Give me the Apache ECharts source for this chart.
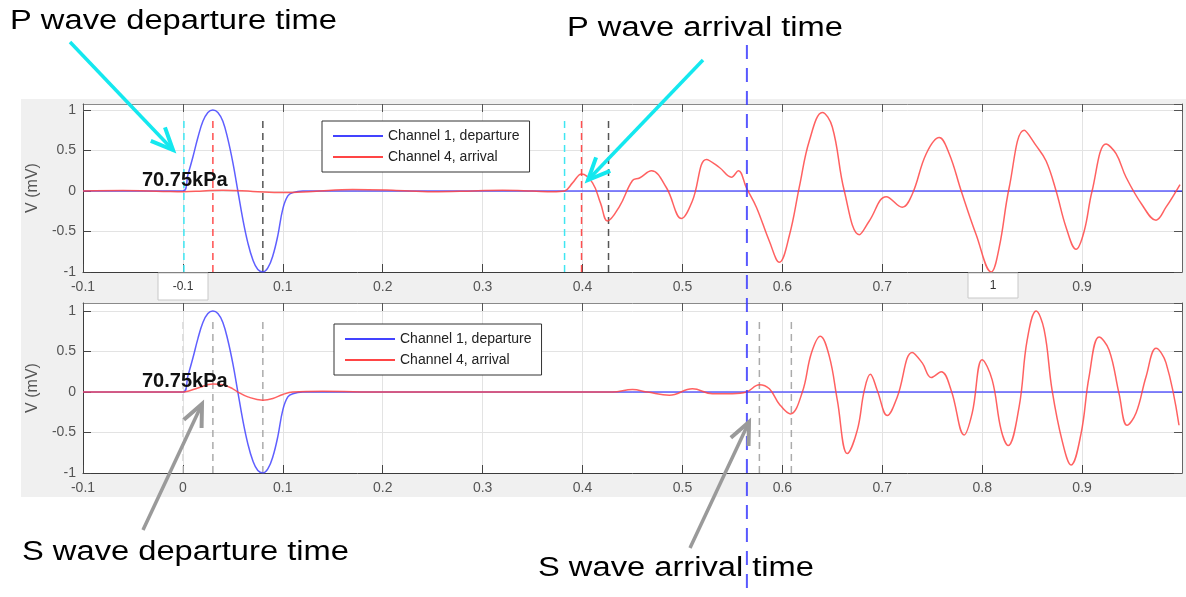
<!DOCTYPE html>
<html><head><meta charset="utf-8">
<script src="https://cdn.jsdelivr.net/npm/echarts/dist/echarts.min.js"></script>
<style>html,body{margin:0;padding:0;background:#fff}#c{width:1186px;height:597px}</style>
</head><body><div id="c"></div>
<script>
// ---------------- data ----------------
const xRange = [-0.1, 1.0];
const yTicks = [-1, -0.5, 0, 0.5, 1];
const seriesNames = ['Channel 1, departure', 'Channel 4, arrival'];
const pressureLabel = '70.75kPa';

// Channel 1 (departure), same in both panels
const ch1T = [-0.1, 0, 0.005, 0.01, 0.015, 0.02, 0.025, 0.03, 0.035, 0.04, 0.045, 0.05, 0.055, 0.06, 0.065, 0.07, 0.075, 0.08, 0.085, 0.09, 0.095, 0.1, 0.105, 0.11, 0.12, 0.2, 1.0];
const ch1V = [0, 0, 0.2, 0.42, 0.66, 0.86, 0.97, 1.0, 0.97, 0.86, 0.64, 0.35, 0.0, -0.35, -0.64, -0.85, -0.97, -1.0, -0.95, -0.8, -0.55, -0.22, -0.06, -0.02, 0, 0, 0];

// Channel 4 (arrival), P-wave panel
const ch4pT = [-0.1, -0.06, -0.02, 0.0, 0.02, 0.04, 0.07, 0.1, 0.13, 0.17, 0.21, 0.25, 0.29, 0.32, 0.35, 0.37, 0.382,
  0.39, 0.399, 0.41, 0.418, 0.425, 0.437, 0.45, 0.457, 0.469, 0.484, 0.499, 0.51, 0.524, 0.537, 0.549, 0.556, 0.564, 0.574,
  0.587, 0.597, 0.607, 0.617, 0.627, 0.64, 0.65, 0.662, 0.677, 0.687, 0.704, 0.72, 0.73, 0.744, 0.757, 0.767, 0.779, 0.794,
  0.809, 0.817, 0.827, 0.842, 0.854, 0.864, 0.874, 0.884, 0.894, 0.902, 0.91, 0.924, 0.934, 0.944, 0.96, 0.974, 0.984, 0.998];
const ch4pV = [0, 0.005, -0.005, -0.01, 0.0, 0.01, -0.005, -0.02, -0.005, 0.02, 0.01, -0.01, 0.0, 0.01, 0.0, -0.01, 0,
  0.1, 0.21, 0.1, -0.15, -0.37, -0.19, 0.13, 0.16, 0.25, 0.04, -0.34, -0.12, 0.39, 0.29, 0.17, 0.25, 0.04, -0.2,
  -0.62, -0.88, -0.55, 0.05, 0.62, 0.97, 0.79, 0.0, -0.54, -0.37, -0.07, -0.2, -0.04, 0.46, 0.66, 0.46, 0.0, -0.54,
  -1.0, -0.7, 0.04, 0.75, 0.56, 0.37, 0.0, -0.45, -0.72, -0.5, 0.0, 0.58, 0.46, 0.17, -0.17, -0.36, -0.2, 0.08];

// Channel 4 (arrival), S-wave panel
const ch4sT = [-0.1, 0, 0.005, 0.015, 0.03, 0.04, 0.05, 0.055, 0.065, 0.08, 0.09, 0.1, 0.11, 0.14, 0.2, 0.3, 0.4, 0.43, 0.45,
  0.465, 0.487, 0.51, 0.53, 0.55, 0.564, 0.577, 0.587, 0.597, 0.608, 0.62, 0.629, 0.638, 0.647, 0.655, 0.665, 0.675, 0.682,
  0.688, 0.695, 0.705, 0.715, 0.73, 0.74, 0.749, 0.759, 0.769, 0.782, 0.79, 0.8, 0.81, 0.819, 0.826, 0.837, 0.845, 0.854,
  0.862, 0.87, 0.88, 0.889, 0.899, 0.907, 0.917, 0.927, 0.937, 0.945, 0.954, 0.964, 0.974, 0.984, 0.997];
const ch4sV = [0, 0, 0.01, 0.05, 0.1, 0.09, 0.04, 0.0, -0.06, -0.1, -0.08, -0.03, 0.0, 0.01, 0.0, 0.0, 0.0, 0.0, 0.03,
  0.0, -0.04, 0.04, -0.02, -0.02, 0.0, 0.09, 0.04, -0.15, -0.27, 0.0, 0.48, 0.69, 0.44, -0.1, -0.76, -0.47, 0.02,
  0.22, 0.02, -0.29, -0.06, 0.49, 0.36, 0.18, 0.25, 0.02, -0.53, -0.26, 0.4, 0.15, -0.47, -0.66, -0.18, 0.64, 1.0,
  0.77, 0.02, -0.6, -0.9, -0.51, 0.19, 0.68, 0.52, -0.02, -0.41, -0.26, 0.19, 0.54, 0.36, -0.41];

// picked times (s)
const pDepartT = [0.001, 0.382];   // cyan
const pPeakT   = [0.03, 0.399];    // red
const pEndT    = [0.08, 0.426];    // dark
const sFaintT  = [0.0];
const sPickT   = [0.03, 0.08, 0.577, 0.609];
const sArrivalT = 0.5645;
const markerSpan = [-1, 0.9];

// ---------------- build ----------------
const FONT = 'Liberation Sans, Arial, sans-serif';
const zip = (t, v) => t.map((x, i) => [x, v[i]]);
const chart = echarts.init(document.getElementById('c'), null, {renderer: 'canvas'});

function xAxes(grid) {
  return [{
    type: 'value', gridIndex: grid, min: xRange[0], max: xRange[1], interval: 0.1, position: 'bottom',
    axisLine: {show: true, onZero: false, lineStyle: {color: '#3c3c3c', width: 1}},
    axisTick: {show: true, inside: true, length: 8, lineStyle: {color: '#444'}},
    axisLabel: {color: '#555', fontSize: 14, fontFamily: FONT, margin: 8, showMaxLabel: false, showMinLabel: true},
    splitLine: {show: true, lineStyle: {color: '#e3e3e3', width: 1}}
  }, {
    type: 'value', gridIndex: grid, min: xRange[0], max: xRange[1], interval: 0.1, position: 'top',
    axisLine: {show: true, onZero: false, lineStyle: {color: '#8a8a8a', width: 1}},
    axisTick: {show: true, inside: true, length: 8, lineStyle: {color: '#555'}},
    axisLabel: {show: false}, splitLine: {show: false}
  }];
}
function yAxes(grid, max) {
  return [{
    type: 'value', gridIndex: grid, min: -1, max: max, interval: 0.5, position: 'left',
    name: 'V (mV)', nameLocation: 'middle', nameGap: 37, nameRotate: 90,
    nameTextStyle: {fontSize: 16, color: '#555', fontFamily: FONT},
    axisLine: {show: true, onZero: false, lineStyle: {color: '#3c3c3c', width: 1}},
    axisTick: {show: true, inside: true, length: 8, lineStyle: {color: '#444'}},
    axisLabel: {color: '#555', fontSize: 14, fontFamily: FONT, margin: 7, showMaxLabel: false,
      formatter: v => (yTicks.some(t => Math.abs(t - v) < 1e-9) ? String(v) : '')},
    splitLine: {show: true, lineStyle: {color: '#e3e3e3', width: 1}}
  }, {
    type: 'value', gridIndex: grid, min: -1, max: max, interval: 0.5, position: 'right',
    axisLine: {show: true, onZero: false, lineStyle: {color: '#666', width: 1}},
    axisTick: {show: true, inside: true, length: 8, lineStyle: {color: '#555'}},
    axisLabel: {show: false}, splitLine: {show: false}
  }];
}
function wave(name, xi, yi, t, v, color, z) {
  return {name, type: 'line', xAxisIndex: xi, yAxisIndex: yi, data: zip(t, v), symbol: 'none', showSymbol: false,
    smooth: 0.4, lineStyle: {color, width: 1.5, opacity: 0.85}, itemStyle: {color}, z, silent: true};
}
function markers(times, xi, yi, color) {
  return times.map(t => ({type: 'line', xAxisIndex: xi, yAxisIndex: yi, symbol: 'none', silent: true, z: 2,
    data: markerSpan.map(y => [t, y]), lineStyle: {color, width: 1.5, type: [7, 5]}}));
}
function legend(left, top) {
  return {data: seriesNames.map(n => ({name: n, icon: 'rect'})), orient: 'vertical', left, top,
    padding: [7, 10, 7, 11], itemGap: 5,
    itemWidth: 50, itemHeight: 2, borderColor: '#333', borderWidth: 1, backgroundColor: '#fff', borderRadius: 0,
    selectedMode: false, textStyle: {fontSize: 14, lineHeight: 16, color: '#222', fontFamily: FONT}};
}

const option = {
  animation: false,
  backgroundColor: '#fff',
  grid: [
    {left: 83, top: 104, width: 1099, height: 168, show: true, backgroundColor: '#fff', borderWidth: 0, containLabel: false, outerBoundsMode: 'none'},
    {left: 83, top: 303, width: 1099, height: 170, show: true, backgroundColor: '#fff', borderWidth: 0, containLabel: false, outerBoundsMode: 'none'}
  ],
  xAxis: [...xAxes(0), ...xAxes(1)],
  yAxis: [...yAxes(0, 1.074), ...yAxes(1, 1.1)],
  legend: [legend(322, 121), legend(334, 324)],
  series: [
    ...markers(pDepartT, 0, 0, '#3fe6f2'),
    ...markers(pPeakT, 0, 0, '#ff4f4f'),
    ...markers(pEndT, 0, 0, '#555555'),
    wave(seriesNames[0], 0, 0, ch1T, ch1V, '#4343ff', 3),
    wave(seriesNames[1], 0, 0, ch4pT, ch4pV, '#ff4545', 4),
    ...markers(sFaintT, 2, 2, '#dadada'),
    ...markers(sPickT, 2, 2, '#ababab'),
    wave(seriesNames[0], 2, 2, ch1T, ch1V, '#4343ff', 3),
    wave(seriesNames[1], 2, 2, ch4sT, ch4sV, '#ff4545', 4)
  ],
  graphic: [{type: 'rect', z: -10, shape: {x: 21, y: 99, width: 1165, height: 398}, style: {fill: '#f0f0f0'}, silent: true}]
};
chart.setOption(option);

// ---------------- annotations ----------------
function arrow(x1, y1, x2, y2, color) {
  const ang = Math.atan2(y2 - y1, x2 - x1), L = 24, a = 0.42;
  const p1 = [x2 - L * Math.cos(ang - a), y2 - L * Math.sin(ang - a)];
  const p2 = [x2 - L * Math.cos(ang + a), y2 - L * Math.sin(ang + a)];
  return [
    {type: 'line', z: 100, silent: true, shape: {x1, y1, x2, y2}, style: {stroke: color, lineWidth: 3.5}},
    {type: 'polyline', z: 100, silent: true, shape: {points: [p1, [x2, y2], p2]}, style: {stroke: color, lineWidth: 4, fill: null, lineJoin: 'miter'}}
  ];
}
function bigText(text, x, y) {
  return {type: 'text', z: 101, silent: true, x, y, scaleX: 1.21, scaleY: 1,
    style: {text, fontSize: 27, fontFamily: FONT, fill: '#000', textAlign: 'left', textVerticalAlign: 'middle'}};
}
function tipBox(text, x, y, w, h) {
  return [
    {type: 'rect', z: 60, silent: true, shape: {x, y, width: w, height: h}, style: {fill: '#fff', stroke: '#c8c8c8', lineWidth: 1}},
    {type: 'text', z: 61, silent: true, x: x + w / 2, y: y + h / 2,
      style: {text, fontSize: 12, fontFamily: FONT, fill: '#333', textAlign: 'center', textVerticalAlign: 'middle'}}
  ];
}
const xs = chart.convertToPixel({xAxisIndex: 0}, sArrivalT);
const g = [
  {type: 'rect', z: -10, shape: {x: 21, y: 99, width: 1165, height: 398}, style: {fill: '#f0f0f0'}, silent: true},
  ...tipBox('-0.1', 158, 273, 50, 27),
  ...tipBox('1', 968, 273, 50, 25),
  {type: 'text', z: 70, silent: true, x: 142, y: 180, style: {text: pressureLabel, fontSize: 20, fontWeight: 'bold', fontFamily: FONT, fill: '#111', textVerticalAlign: 'middle'}},
  {type: 'text', z: 70, silent: true, x: 142, y: 381, style: {text: pressureLabel, fontSize: 20, fontWeight: 'bold', fontFamily: FONT, fill: '#111', textVerticalAlign: 'middle'}},
  {type: 'line', z: 90, silent: true, shape: {x1: xs, y1: 45, x2: xs, y2: 597}, style: {stroke: '#3b3bff', lineWidth: 2, lineDash: [14, 9], opacity: 0.85}},
  bigText('P wave departure time', 10, 22),
  bigText('P wave arrival time', 567, 29),
  bigText('S wave departure time', 22, 553),
  bigText('S wave arrival time', 538, 569),
  ...arrow(70, 42, 173, 150, '#14e8ef'),
  ...arrow(703, 60, 588, 180, '#14e8ef'),
  ...arrow(143, 530, 202, 404, '#9a9a9a'),
  ...arrow(690, 548, 749, 422, '#9a9a9a')
];
chart.setOption({graphic: g}, {replaceMerge: ['graphic']});
</script>
</body></html>
